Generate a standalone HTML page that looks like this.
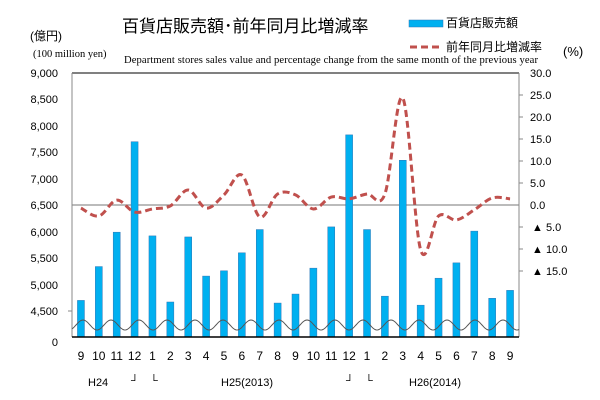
<!DOCTYPE html><html><head><meta charset="utf-8"><style>body{margin:0;background:#fff}svg{display:block}text{font-family:"Liberation Sans","Noto Sans CJK JP",sans-serif;fill:#000}</style></head><body>
<svg width="600" height="400" xmlns="http://www.w3.org/2000/svg">
<text x="122" y="32" font-size="17">百貨店販売額･前年同月比増減率</text>
<text x="30" y="40" font-size="12">(億円)</text>
<text x="33" y="57" font-size="10.5" style="font-family:'Liberation Serif',serif">(100 million yen)</text>
<text x="124" y="63" font-size="10.6" style="font-family:'Liberation Serif',serif" textLength="414">Department stores sales value and percentage change from the same month of the previous year</text>
<rect x="409" y="20" width="34" height="7" fill="#00b0f0" stroke="#2e75b6" stroke-width="0.5"/>
<text x="446" y="27" font-size="12">百貨店販売額</text>
<line x1="410" y1="47" x2="442" y2="47" stroke="#c0504d" stroke-width="3" stroke-dasharray="7,4"/>
<text x="446" y="51" font-size="12">前年同月比増減率</text>
<text x="563" y="56" font-size="13">(%)</text>
<g font-size="11" text-anchor="end">
<text x="58" y="77">9,000</text><text x="58" y="103">8,500</text><text x="58" y="130">8,000</text><text x="58" y="156">7,500</text><text x="58" y="183">7,000</text><text x="58" y="209">6,500</text><text x="58" y="236">6,000</text><text x="58" y="262">5,500</text><text x="58" y="289">5,000</text><text x="58" y="315">4,500</text><text x="58" y="346">0</text>
</g>
<g font-size="11">
<text x="530" y="77">30.0</text><text x="530" y="99">25.0</text><text x="530" y="121">20.0</text><text x="530" y="143">15.0</text><text x="530" y="165">10.0</text><text x="530" y="187">5.0</text><text x="530" y="209">0.0</text>
<text x="532" y="231">▲ 5.0</text><text x="532" y="253">▲ 10.0</text><text x="532" y="275">▲ 15.0</text>
</g>
<line x1="72" y1="73" x2="519" y2="73" stroke="#000" stroke-width="1"/>
<line x1="72" y1="205" x2="519" y2="205" stroke="#777" stroke-width="1"/>
<line x1="72" y1="73" x2="72" y2="337" stroke="#888"/>
<line x1="519" y1="73" x2="519" y2="337" stroke="#888"/>
<g stroke="#888"><line x1="68" y1="311" x2="72" y2="311"/><line x1="519" y1="95" x2="523" y2="95"/><line x1="519" y1="117" x2="523" y2="117"/><line x1="519" y1="139" x2="523" y2="139"/><line x1="519" y1="161" x2="523" y2="161"/><line x1="519" y1="183" x2="523" y2="183"/><line x1="519" y1="227" x2="523" y2="227"/><line x1="519" y1="249" x2="523" y2="249"/><line x1="519" y1="271" x2="523" y2="271"/></g>
<g id="bars" fill="#00b0f0" stroke="#2e75b6" stroke-width="0.5"></g>
<path id="wave" fill="none" stroke="#555" stroke-width="1"/>
<line x1="72" y1="337" x2="519" y2="337" stroke="#000" stroke-width="1.5"/>
<path id="ln" fill="none" stroke="#c0504d" stroke-width="3" stroke-dasharray="7,4"/>
<g id="xl" font-size="12" text-anchor="middle"></g>
<g font-size="11"><text x="88" y="386">H24</text><text x="131" y="384">┘</text><text x="150" y="384">└</text><text x="221" y="386">H25(2013)</text><text x="346" y="384">┘</text><text x="365" y="384">└</text><text x="409" y="386">H26(2014)</text></g>
</svg>
<script>
var v=[4700,5340,5990,7700,5920,4670,5900,5160,5260,5600,6040,4650,4820,5310,6090,7830,6040,4780,7350,4610,5120,5410,6010,4740,4890];
var p=[-0.7,-2.5,1.1,-1.6,-0.9,-0.2,3.4,-0.7,2.3,6.8,-2.7,2.5,2.3,-0.9,1.8,1.4,2.5,2.5,24.3,-10.2,-2.5,-3.4,-1.1,1.6,1.4];
var ns="http://www.w3.org/2000/svg",st=447/25,b=document.getElementById('bars'),xl=document.getElementById('xl'),P=[];
var m=[9,10,11,12,1,2,3,4,5,6,7,8,9,10,11,12,1,2,3,4,5,6,7,8,9];
for(var i=0;i<25;i++){var c=72+st*(i+.5),y=311-(v[i]-4500)*0.05289;
var r=document.createElementNS(ns,'rect');r.setAttribute('x',c-3.5);r.setAttribute('y',y);r.setAttribute('width',7);r.setAttribute('height',337-y);b.appendChild(r);
P.push([c,205-p[i]*4.4]);
var t=document.createElementNS(ns,'text');t.setAttribute('x',c);t.setAttribute('y',360);t.textContent=m[i];xl.appendChild(t);}
var d='M'+P[0][0]+','+P[0][1];
for(var i=0;i<24;i++){var p0=P[Math.max(0,i-1)],p1=P[i],p2=P[i+1],p3=P[Math.min(24,i+2)],k=0.17;
d+=' C'+(p1[0]+(p2[0]-p0[0])*k)+','+(p1[1]+(p2[1]-p0[1])*k)+' '+(p2[0]-(p3[0]-p1[0])*k)+','+(p2[1]-(p3[1]-p1[1])*k)+' '+p2[0]+','+p2[1];}
document.getElementById('ln').setAttribute('d',d);
var w='';for(var x=72;x<=519;x+=1){var yy=325-5*Math.cos((x-83)/28*2*Math.PI);w+=(x==72?'M':'L')+x+','+yy.toFixed(1);}
document.getElementById('wave').setAttribute('d',w);
</script>
</body></html>
